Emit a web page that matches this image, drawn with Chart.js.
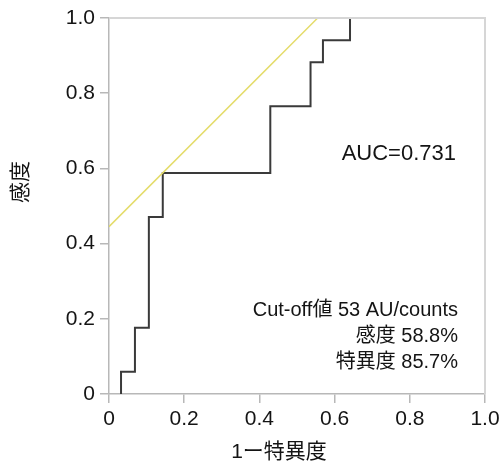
<!DOCTYPE html>
<html>
<head>
<meta charset="utf-8">
<script src="https://cdn.jsdelivr.net/npm/chart.js@4/dist/chart.umd.min.js"></script>
<style>
html,body{margin:0;padding:0;background:#fff;}
#wrap{width:500px;height:469px;}
</style>
</head>
<body>
<div id="wrap"><canvas id="c" width="500" height="469"></canvas></div>
<script>
// ROC curve (1 - specificity, sensitivity)
const rocFpr = [0.032, 0.032, 0.069, 0.069, 0.106, 0.106, 0.143, 0.143, 0.429, 0.429, 0.536, 0.536, 0.569, 0.569, 0.641, 0.641];
const rocTpr = [0.000, 0.059, 0.059, 0.176, 0.176, 0.471, 0.471, 0.588, 0.588, 0.765, 0.765, 0.882, 0.882, 0.941, 0.941, 1.000];
// Youden tangent line
const refX = [0, 0.555];
const refY = [0.445, 1.0];
const tickValues = [0, 0.2, 0.4, 0.6, 0.8, 1.0];
const xTitle = '1ー特異度';
const yTitle = '感度';
const aucText = 'AUC=0.731';
const cutoffLines = ['Cut-off値 53 AU/counts', '感度 58.8%', '特異度 85.7%'];

const FONT = '"Liberation Sans", Arial, "Noto Sans CJK JP", sans-serif';
const fmt = v => (Math.abs(v) < 1e-9 ? '0' : Number(v).toFixed(1));

const rocData = rocFpr.map((x, i) => ({x, y: rocTpr[i]}));
const refData = refX.map((x, i) => ({x, y: refY[i]}));

const textPlugin = {
  id: 'texts',
  afterDraw(chart) {
    const ctx = chart.ctx;
    const a = chart.chartArea;
    ctx.save();
    // frame (top and right)
    ctx.strokeStyle = '#d6d6d6';
    ctx.lineWidth = 2;
    ctx.beginPath();
    ctx.moveTo(a.left, a.top);
    ctx.lineTo(a.right, a.top);
    ctx.lineTo(a.right, a.bottom);
    ctx.stroke();

    ctx.fillStyle = '#141414';
    ctx.font = '22px ' + FONT;
    ctx.textAlign = 'right';
    ctx.textBaseline = 'alphabetic';
    ctx.fillText(aucText, 456, 160);

    ctx.font = '20px ' + FONT;
    const baselines = [316, 342, 368];
    cutoffLines.forEach((t, i) => ctx.fillText(t, 458, baselines[i]));

    // axis titles
    ctx.font = '21px ' + FONT;
    ctx.textAlign = 'center';
    ctx.textBaseline = 'middle';
    ctx.fillText(xTitle, 279, 452);
    ctx.translate(21, 182);
    ctx.rotate(-Math.PI / 2);
    ctx.fillText(yTitle, 0, 0);
    ctx.restore();
  }
};

const axisCommon = {
  type: 'linear',
  min: 0,
  max: 1,
  afterBuildTicks(scale) { scale.ticks = tickValues.map(v => ({value: v})); },
  grid: { drawOnChartArea: false, drawTicks: true, tickLength: 9, color: '#b8b8b8', lineWidth: 1.5 },
  border: { color: '#b8b8b8', width: 1.5 },
  ticks: {
    color: '#141414',
    font: { family: FONT, size: 21 },
    callback: v => fmt(v)
  }
};

new Chart(document.getElementById('c'), {
  type: 'scatter',
  data: {
    datasets: [
      { data: refData, showLine: true, borderColor: '#e4dc6a', borderWidth: 1.5, pointRadius: 0, fill: false },
      { data: rocData, showLine: true, borderColor: '#3a3a3a', borderWidth: 2, pointRadius: 0, fill: false }
    ]
  },
  options: {
    responsive: false,
    animation: false,
    devicePixelRatio: 1,
    layout: { padding: { top: 18, right: 15, left: 0, bottom: 0 } },
    plugins: { legend: { display: false }, tooltip: { enabled: false } },
    scales: {
      x: Object.assign({}, axisCommon, {
        position: 'bottom',
        ticks: Object.assign({}, axisCommon.ticks, { padding: 4, maxRotation: 0 }),
        afterFit(scale) { scale.height = 75; scale.paddingLeft = 0; scale.paddingRight = 0; }
      }),
      y: Object.assign({}, axisCommon, {
        position: 'left',
        ticks: Object.assign({}, axisCommon.ticks, { padding: 5 }),
        afterFit(scale) { scale.width = 109; scale.paddingTop = 0; scale.paddingBottom = 0; }
      })
    }
  },
  plugins: [textPlugin]
});
</script>
</body>
</html>
